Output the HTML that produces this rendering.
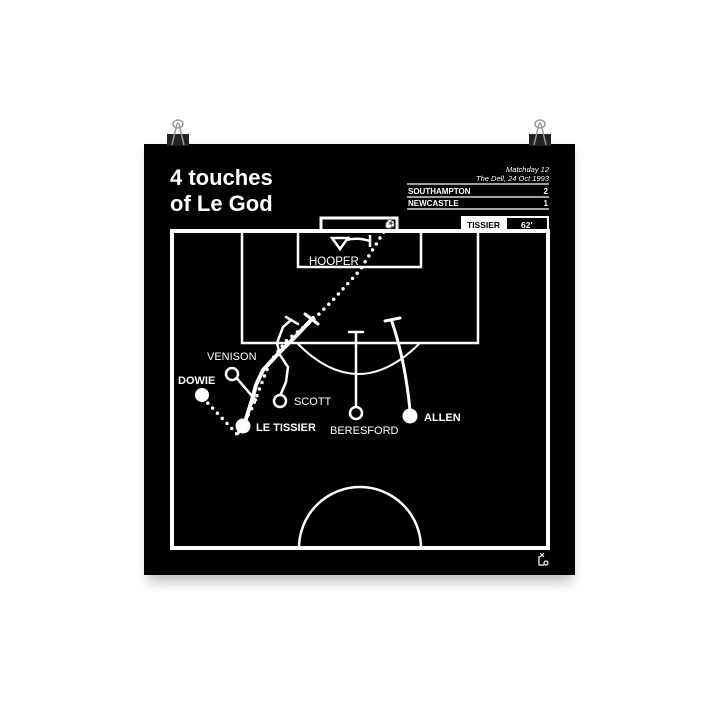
<!DOCTYPE html>
<html><head><meta charset="utf-8"><style>
html,body{margin:0;padding:0;background:#fff;width:720px;height:720px;overflow:hidden}
svg{display:block}
text{font-family:"Liberation Sans",sans-serif;fill:#fff}
</style></head><body>
<svg width="720" height="720" viewBox="0 0 720 720">
<defs>
<filter id="sh" x="-10%" y="-10%" width="120%" height="130%"><feGaussianBlur stdDeviation="6"/></filter>
</defs>
<rect x="148" y="150" width="424" height="432" fill="#000" opacity="0.25" filter="url(#sh)"/>
<rect x="144" y="144" width="431" height="431" fill="#000"/>
<!-- clips -->
<g fill="#222"><rect x="167" y="134" width="22" height="12"/><rect x="529" y="134" width="22" height="12"/></g>
<g fill="none" stroke="#999" stroke-width="1.5">
<path d="M172,145 L176,128 Q178,118 180,128 L184,145"/><ellipse cx="178" cy="124" rx="5" ry="4"/>
<path d="M534,145 L538,128 Q540,118 542,128 L546,145"/><ellipse cx="540" cy="124" rx="5" ry="4"/>
</g>
<!-- titles -->
<text x="170" y="185" font-size="22" font-weight="bold">4 touches</text>
<text x="170" y="211" font-size="22" font-weight="bold">of Le God</text>
<text x="549" y="172" font-size="7.5" font-style="italic" text-anchor="end">Matchday 12</text>
<text x="549" y="181" font-size="7.5" font-style="italic" text-anchor="end">The Dell, 24 Oct 1993</text>
<g stroke="#fff" stroke-width="1.2"><line x1="407" y1="184" x2="549" y2="184"/><line x1="407" y1="197" x2="549" y2="197"/><line x1="407" y1="209" x2="549" y2="209"/></g>
<text x="408" y="194" font-size="8" font-weight="bold">SOUTHAMPTON</text><text x="548" y="194" font-size="8" font-weight="bold" text-anchor="end">2</text>
<text x="408" y="206" font-size="8" font-weight="bold">NEWCASTLE</text><text x="548" y="206" font-size="8" font-weight="bold" text-anchor="end">1</text>
<rect x="461" y="216" width="88" height="16" fill="#fff"/>
<rect x="507" y="218" width="40" height="12" fill="#000"/>
<text x="467" y="228" font-size="8.5" font-weight="bold" style="fill:#000">TISSIER</text>
<text x="521" y="228" font-size="8.5" font-weight="bold">62'</text>
<!-- pitch -->
<g fill="none" stroke="#fff">
<rect x="172" y="231" width="376" height="317" stroke-width="4"/>
<rect x="321" y="218" width="76" height="13" stroke-width="3"/>
<rect x="242" y="231" width="236" height="112" stroke-width="2.5"/>
<rect x="298" y="231" width="123" height="36" stroke-width="2.5"/>
<path d="M297,343 Q358,405 420,343" stroke-width="2"/>
<path d="M299,548 A61,61 0 0 1 421,548" stroke-width="2.5"/>
</g>
<text x="385" y="227" font-size="8" font-weight="bold">⚽</text>
<!-- hooper -->
<g fill="none" stroke="#fff" stroke-width="2.5">
<path d="M332,238 L348,238 L340,249 Z"/>
<path d="M346,240 Q358,237 370,241"/><line x1="370" y1="235" x2="370" y2="247"/>
</g>
<text x="309" y="265" font-size="11.5">HOOPER</text>
<!-- ball path -->
<g fill="none" stroke="#fff" stroke-width="3.5" stroke-linecap="round" stroke-dasharray="0 7">
<path d="M203,398 L237,434"/>
<path d="M238,433 L252,408 L270,362 L287,340 L313,320 L333,300 L360,270 L390,222"/>
</g>
<!-- runs -->
<g fill="none" stroke="#fff" stroke-linecap="round">
<path d="M245,422 L252,400 L256,385 L263,370 L277,355 L297,335 L313,318" stroke-width="4"/>
<path d="M305,314 L318,324" stroke-width="3"/>
<path d="M280,396 L286,382 L288,367 L280,355 L277,343 L283,327 L291,320" stroke-width="2.5"/>
<path d="M286,317 L298,324" stroke-width="2.5"/>
<path d="M234,375 L252,396 L256,400" stroke-width="2.5"/>
<path d="M356,407 L356,334" stroke-width="2.5"/>
<path d="M349,332 L363,332" stroke-width="2.5"/>
<path d="M410,410 Q405,360 392,322" stroke-width="3"/>
<path d="M385,321 L400,318" stroke-width="3"/>
</g>
<!-- players -->
<circle cx="202" cy="395" r="7" fill="#fff"/>
<circle cx="232" cy="374" r="6" fill="#000" stroke="#fff" stroke-width="2.5"/>
<circle cx="280" cy="401" r="6" fill="#000" stroke="#fff" stroke-width="2.5"/>
<circle cx="243" cy="426" r="7.5" fill="#fff"/>
<circle cx="356" cy="413" r="6" fill="#000" stroke="#fff" stroke-width="2.5"/>
<circle cx="410" cy="416" r="7.5" fill="#fff"/>
<text x="178" y="384" font-size="11" font-weight="bold">DOWIE</text>
<text x="207" y="360" font-size="11">VENISON</text>
<text x="294" y="405" font-size="11">SCOTT</text>
<text x="256" y="431" font-size="11" font-weight="bold">LE TISSIER</text>
<text x="330" y="434" font-size="11">BERESFORD</text>
<text x="424" y="421" font-size="11" font-weight="bold">ALLEN</text>
<!-- logo -->
<g fill="none" stroke="#fff" stroke-width="1.2"><path d="M539,556 L539,565 L544,565"/><circle cx="546" cy="563" r="2"/><path d="M540,553 L544,557 M544,553 L540,557"/></g>
</svg>
</body></html>
